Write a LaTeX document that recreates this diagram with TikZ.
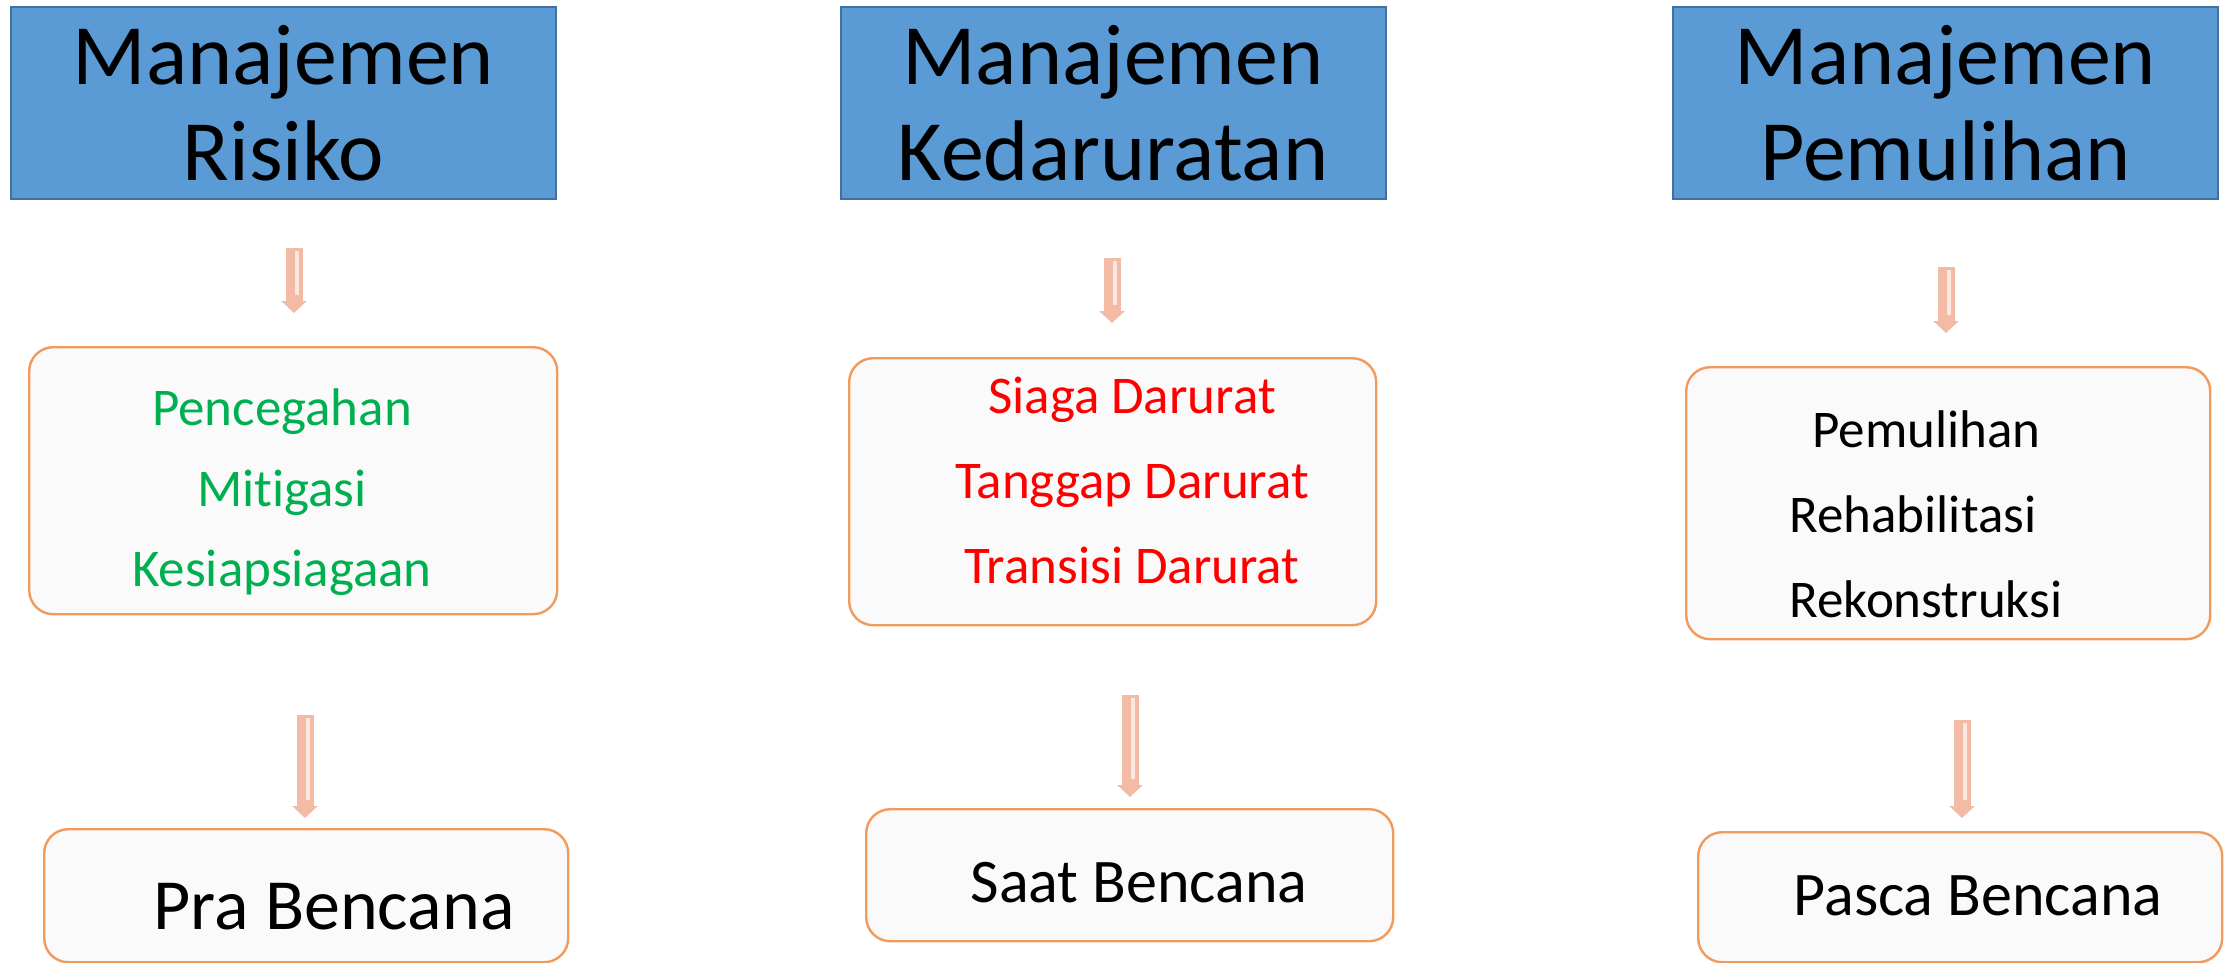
\documentclass[tikz,border=0pt]{standalone}
\usepackage{fontspec}
\setmainfont[Ligatures={NoCommon,NoContextual,NoRequired}]{Carlito}
\usetikzlibrary{arrows.meta}
\definecolor{headblue}{HTML}{5B9BD5}
\definecolor{headline}{HTML}{41719C}
\definecolor{boxline}{HTML}{F29A5C}
\definecolor{arrowpink}{HTML}{F3BBA6}
\definecolor{txtgreen}{HTML}{00B050}
\definecolor{txtred}{HTML}{FF0000}
\tikzset{
  head/.style={draw=headline, fill=headblue, line width=1pt, minimum width=272.5pt,
    minimum height=96pt, align=center, inner sep=0pt, font=\fontsize{43}{48}\selectfont},
  item/.style={draw=boxline, fill=black!2, line width=1.2pt, rounded corners=12pt,
    anchor=north west},
  entry/.style={anchor=base, inner sep=0pt, font=\fontsize{26.5}{30}\selectfont},
  phase/.style={anchor=base, inner sep=0pt, font=\fontsize{31}{36}\selectfont},
  flow/.style={draw=arrowpink, line width=8.5pt, -{Triangle[width=12.5pt,length=6pt]}},
  shine/.style={draw=white!65!arrowpink, line width=1.8pt, shorten >=9pt}
}
\begin{document}
\begin{tikzpicture}[x=0.5pt,y=-0.5pt]
    \useasboundingbox (0,0) rectangle (2224,963);
    % Judul
    \node[head] (h1) at (283.5,103) {Manajemen\\Risiko};
    \node[head] (h2) at (1113,103) {Manajemen\\Kedaruratan};
    \node[head] (h3) at (1945.5,103) {Manajemen\\Pemulihan};
    % Kotak tengah
    \node[item, minimum width=264pt, minimum height=133.5pt] (m1) at (28,346) {};
    \node[item, minimum width=263.5pt, minimum height=133.5pt] (m2) at (848,357) {};
    \node[item, minimum width=262pt, minimum height=136pt] (m3) at (1685,366) {};
    \node[entry, text=txtgreen] (pencegahan) at (282,425) {Pencegahan};
    \node[entry, text=txtgreen] (mitigasi) at (282,506) {Mitigasi};
    \node[entry, text=txtgreen] (siap) at (282,586) {Kesiapsiagaan};
    \node[entry, text=txtred] (siaga) at (1132,413) {Siaga Darurat};
    \node[entry, text=txtred] (tanggap) at (1132,498) {Tanggap Darurat};
    \node[entry, text=txtred] (transisi) at (1132,583) {Transisi Darurat};
    \node[entry, anchor=base west] (pulih) at (1812,447) {Pemulihan};
    \node[entry, anchor=base west] (rehab) at (1789,532) {Rehabilitasi};
    \node[entry, anchor=base west] (rekon) at (1789,617) {Rekonstruksi};
    % Kotak bawah
    \node[item, minimum width=262pt, minimum height=66.5pt] (b1) at (43,828) {};
    \node[item, minimum width=263.5pt, minimum height=66pt] (b2) at (865,808) {};
    \node[item, minimum width=262pt, minimum height=65pt] (b3) at (1697,831) {};
    \node[phase, font=\fontsize{36}{40}\selectfont] (pra) at (334,929) {Pra Bencana};
    \node[phase] (saat) at (1139,902) {Saat Bencana};
    \node[phase] (pasca) at (1978,915) {Pasca Bencana};
    % Panah
    \coordinate (a1t) at (294,248);  \coordinate (a1b) at (294,313);
    \coordinate (a2t) at (1112,258); \coordinate (a2b) at (1112,323);
    \coordinate (a3t) at (1946,267); \coordinate (a3b) at (1946,333);
    \coordinate (a4t) at (305,715);  \coordinate (a4b) at (305,818);
    \coordinate (a5t) at (1130,695); \coordinate (a5b) at (1130,797);
    \coordinate (a6t) at (1962,720); \coordinate (a6b) at (1962,818);
    \foreach \a in {a1,a2,a3,a4,a5,a6} {
      \draw[flow] (\a t) -- (\a b);
      \draw[shine] ([xshift=1.5pt,yshift=-1.5pt]\a t) -- ([xshift=1.5pt]\a b);
    }
\end{tikzpicture}
\end{document}
